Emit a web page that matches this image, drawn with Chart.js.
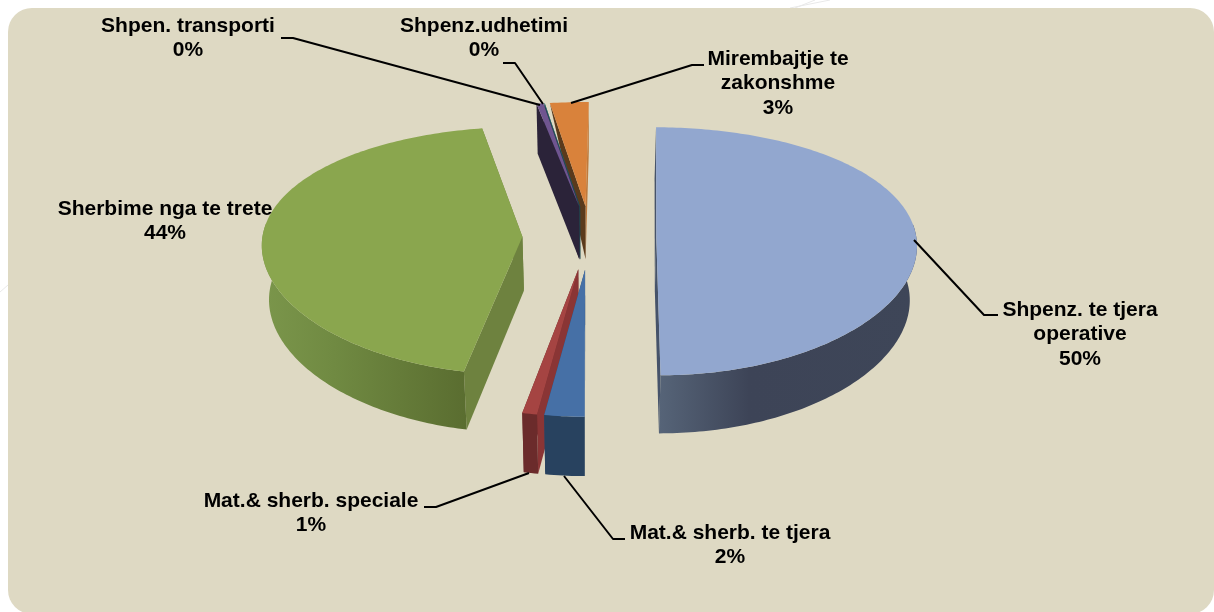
<!DOCTYPE html>
<html><head><meta charset="utf-8">
<style>html,body{margin:0;padding:0;background:#fff}canvas{display:block}</style>
<script src="https://cdn.jsdelivr.net/npm/chart.js@4"></script>
</head><body><canvas id="c" width="1214" height="612"></canvas>
<script>
// ---- data (clockwise from the bottom of the pie, the original series order)
const categories = ['Mat.& sherb. te tjera','Mat.& sherb. speciale','Sherbime nga te trete','Shpen. transporti','Shpenz.udhetimi','Mirembajtje te\nzakonshme','Shpenz. te tjera\noperative'];
const values = [2.3, 0.85, 44.02, 0.45, 0.03, 2.55, 49.8];

// ---- styles
const topColors  = ['#4670a6','#a54442','#8aa64e','#6f5590','#2f6f7e','#d9823b','#92a7cf'];
const startFaces = ['#2a4a70','#8a3535','#6e823f','#2b2339','#1f4a50','#5a3a1c','#46536a'];
const endFaces   = ['#2a4a70','#6b2b2b','#6e823f','#2b2339','#1f4a50','#bf7a3c','#46536a'];
const wallStops  = [[[0,'#28425f'],[1,'#28425f']],[[0,'#6b2b2b'],[1,'#6b2b2b']],[[0,'#7b964b'],[.35,'#708a42'],[1,'#5a6d30']],[[0,'#2b2339'],[1,'#2b2339']],[[0,'#1f4a50'],[1,'#1f4a50']],[[0,'#5a3a1c'],[1,'#5a3a1c']],[[0,'#566478'],[.35,'#3d4457'],[1,'#3e4658']]];
const triangularStartFace = [false,false,false,false,false,true,false];
const sliceOffsets = [52,52,52,52,52,52,51];
const labelCenters = [[730,533],[311,501],[165,209],[188,26],[484,26],[778,59],[1080,310]];
const leaders = [
  [[564,476],[613,539],[625,539]],
  [[529,473],[436,507],[424,507]],
  null,
  [[540,105],[293,38],[281,38]],
  [[543,104],[515,63],[503,63]],
  [[571,103],[692,65],[704,65]],
  [[914,240],[984,315],[998,315]]
];
const view = {cx:590, cy:237, rx:260, a:122.4, b:0.113, k:0.5, depth:54, shrink:0.022};

function proj(X, Y, Z) {
  const s = 1 / (1 - view.b * Y);
  const x = view.cx + view.rx * X * (1 + view.k * (s - 1)) * (1 - view.shrink * Z);
  const y = view.cy + view.a * Y * s + Z * view.depth * (1 + 0.6 * (s - 1));
  return [x, y];
}
function poly(ctx, pts, fill) {
  ctx.beginPath();
  pts.forEach((p, i) => i ? ctx.lineTo(p[0], p[1]) : ctx.moveTo(p[0], p[1]));
  ctx.closePath();
  ctx.fillStyle = fill;
  ctx.fill();
}

const pie3d = {
  id: 'pie3d',
  beforeDraw(chart) {
    const ctx = chart.ctx;
    ctx.save();
    ctx.fillStyle = '#fff';
    ctx.fillRect(0, 0, 1214, 612);
    ctx.strokeStyle = '#e9e9e9';
    ctx.lineWidth = 1;
    ctx.beginPath();
    ctx.moveTo(790, 8); ctx.lineTo(830, 0);
    ctx.moveTo(795, 8); ctx.lineTo(815, 0);
    ctx.moveTo(0, 292); ctx.lineTo(8, 285);
    ctx.stroke();
    ctx.beginPath();
    ctx.roundRect(8, 8, 1206, 606, 24);
    ctx.fillStyle = '#ded9c3';
    ctx.fill();
    ctx.restore();
  },
  beforeDatasetsDraw(chart) {
    const ctx = chart.ctx;
    const arcs = chart.getDatasetMeta(0).data;
    const items = arcs.map((arc, i) => {
      const d = arc.options.offset / arc.outerRadius;
      const mid = (arc.startAngle + arc.endAngle) / 2;
      return {i, arc, ox: d * Math.cos(mid), oy: d * Math.sin(mid)};
    }).sort((p, q) => p.oy - q.oy);
    ctx.save();
    for (const it of items) {
      const {i, arc, ox, oy} = it;
      const n = Math.max(2, Math.ceil((arc.endAngle - arc.startAngle) * 60));
      const rim = [];
      for (let j = 0; j <= n; j++) rim.push(arc.startAngle + (arc.endAngle - arc.startAngle) * j / n);
      const at = (t, z) => proj(ox + Math.cos(t), oy + Math.sin(t), z);
      const ap0 = proj(ox, oy, 0), ap1 = proj(ox, oy, 1);
      const s = arc.startAngle, e = arc.endAngle;
      // radial cut faces
      poly(ctx, [at(e,0), ap0, ap1, at(e,1)], endFaces[i]);
      poly(ctx, triangularStartFace[i] ? [at(s,0), ap0, ap1] : [at(s,0), ap0, ap1, at(s,1)], startFaces[i]);
      // outer wall: only the part turned to the viewer
      const vis = rim.filter(t => Math.sin(t) > -0.12);
      if (vis.length > 1) {
        const up = vis.map(t => at(t, 0)), low = vis.map(t => at(t, 1)).reverse();
        const xs = up.concat(low).map(p => p[0]);
        const g = ctx.createLinearGradient(Math.min(...xs), 0, Math.max(...xs), 0);
        wallStops[i].forEach(c => g.addColorStop(c[0], c[1]));
        poly(ctx, up.concat(low), g);
      }
      // top face
      poly(ctx, [ap0].concat(rim.map(t => at(t, 0))), arc.options.backgroundColor);
    }
    ctx.restore();
    return false;
  },
  afterDraw(chart) {
    const ctx = chart.ctx;
    const total = values.reduce((p, q) => p + q, 0);
    ctx.save();
    ctx.strokeStyle = '#000';
    ctx.lineWidth = 2;
    ctx.lineJoin = 'round';
    leaders.forEach(l => {
      if (!l) return;
      ctx.beginPath();
      l.forEach((p, i) => i ? ctx.lineTo(p[0], p[1]) : ctx.moveTo(p[0], p[1]));
      ctx.stroke();
    });
    ctx.fillStyle = '#000';
    ctx.font = 'bold 21px "Liberation Sans", Arial, sans-serif';
    ctx.textAlign = 'center';
    ctx.textBaseline = 'middle';
    categories.forEach((name, i) => {
      const lines = name.split('\n').concat(Math.round(values[i] / total * 100) + '%');
      lines.forEach((t, j) => ctx.fillText(t, labelCenters[i][0], labelCenters[i][1] + j * 24.7));
    });
    ctx.restore();
  }
};

new Chart(document.getElementById('c'), {
  type: 'pie',
  data: {
    labels: categories,
    datasets: [{data: values, backgroundColor: topColors, borderWidth: 0, offset: sliceOffsets, radius: 200}]
  },
  options: {
    responsive: false,
    animation: false,
    rotation: 180,
    plugins: {legend: {display: false}, tooltip: {enabled: false}, title: {display: false}}
  },
  plugins: [pie3d]
});
</script></body></html>
